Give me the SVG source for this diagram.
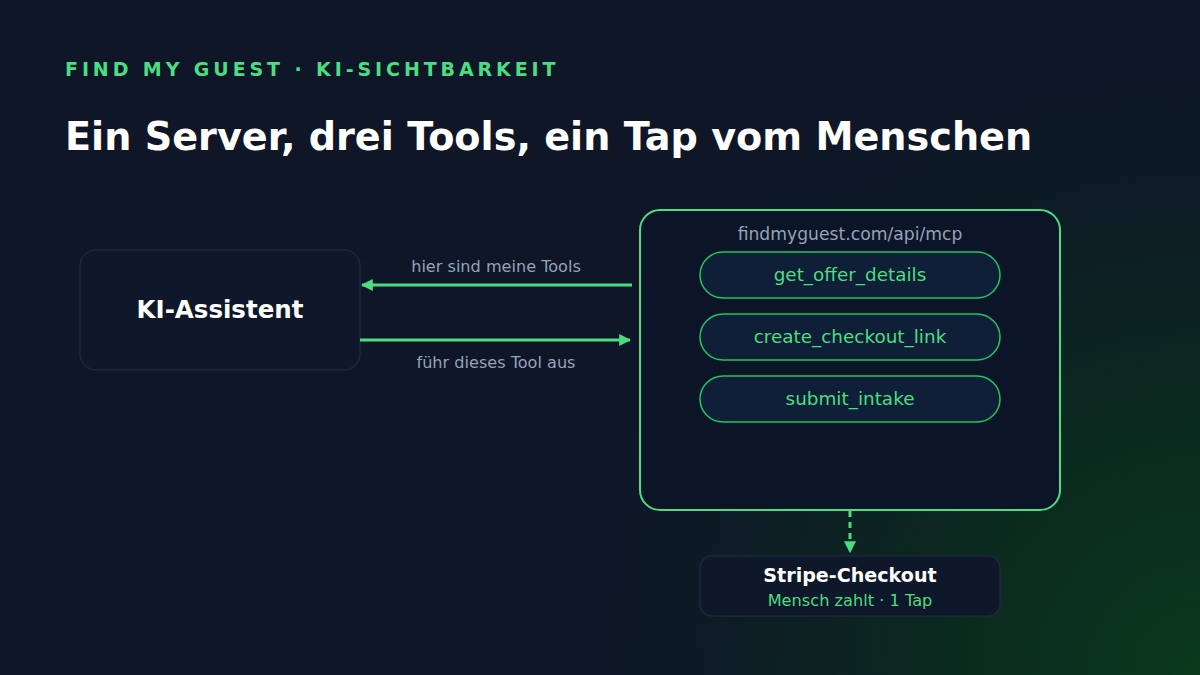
<svg xmlns="http://www.w3.org/2000/svg" width="1200" height="675" viewBox="0 0 1200 675">
<defs>
<radialGradient id="glow" cx="1200" cy="675" r="720" gradientUnits="userSpaceOnUse">
<stop offset="0" stop-color="#0a3a1c"/>
<stop offset="0.45" stop-color="#0b2a1e" stop-opacity="0.8"/>
<stop offset="1" stop-color="#0e1628" stop-opacity="0"/>
</radialGradient>
<marker id="ah" viewBox="0 0 10 10" refX="9" refY="5" markerWidth="12" markerHeight="12" markerUnits="userSpaceOnUse" orient="auto">
<path d="M0,0 L10,5 L0,10 z" fill="#4ade80"/>
</marker>
<style>
text{font-family:"DejaVu Sans","Liberation Sans",sans-serif}
.box{fill:#0f172a;stroke:#1e293b;stroke-width:1.5}
.pill{fill:#0f1f38;stroke:#22c55e;stroke-width:1.5}
.pt{fill:#4ade80;font-size:18.4px;text-anchor:middle}
.lbl{fill:#94a3b8;font-size:16.1px;text-anchor:middle}
.conn{stroke:#4ade80;stroke-width:3;fill:none}
</style>
</defs>
<rect width="1200" height="675" fill="#0e1628"/>
<rect width="1200" height="675" fill="url(#glow)"/>
<text x="65" y="76" font-size="19" font-weight="bold" fill="#4ade80" letter-spacing="3.9">FIND MY GUEST · KI-SICHTBARKEIT</text>
<text x="65" y="150" font-size="38.2" font-weight="bold" fill="#ffffff">Ein Server, drei Tools, ein Tap vom Menschen</text>
<g id="assistant">
<rect class="box" x="80" y="250" width="280" height="120" rx="16"/>
<text x="220" y="318" font-size="24.5" font-weight="bold" fill="#ffffff" text-anchor="middle">KI-Assistent</text>
</g>
<g id="server">
<rect x="640" y="210" width="420" height="300" rx="20" fill="#0c1527" stroke="#4ade80" stroke-width="2"/>
<text x="850" y="240" font-size="17.2" fill="#94a3b8" text-anchor="middle">findmyguest.com/api/mcp</text>
</g>
<g id="tool1">
<rect class="pill" x="700" y="252" width="300" height="46" rx="23"/>
<text class="pt" x="850" y="281">get_offer_details</text>
</g>
<g id="tool2">
<rect class="pill" x="700" y="314" width="300" height="46" rx="23"/>
<text class="pt" x="850" y="343">create_checkout_link</text>
</g>
<g id="tool3">
<rect class="pill" x="700" y="376" width="300" height="46" rx="23"/>
<text class="pt" x="850" y="405">submit_intake</text>
</g>
<g id="stripe">
<rect class="box" x="700" y="556" width="300" height="60" rx="12"/>
<text x="850" y="582" font-size="19.1" font-weight="bold" fill="#ffffff" text-anchor="middle">Stripe-Checkout</text>
<text x="850" y="606" font-size="16.2" fill="#4ade80" text-anchor="middle">Mensch zahlt · 1 Tap</text>
</g>
<g id="connectors">
<line class="conn" x1="632" y1="285" x2="362" y2="285" marker-end="url(#ah)"/>
<text class="lbl" x="496" y="272">hier sind meine Tools</text>
<line class="conn" x1="360" y1="340" x2="630" y2="340" marker-end="url(#ah)"/>
<text class="lbl" x="496" y="368">führ dieses Tool aus</text>
<line class="conn" x1="850" y1="511" x2="850" y2="552" stroke-dasharray="6 5" marker-end="url(#ah)"/>
</g>
</svg>
